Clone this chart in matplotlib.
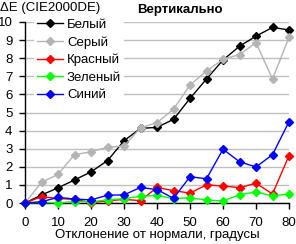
import matplotlib
matplotlib.use("Agg")
import matplotlib.pyplot as plt

plt.rcParams['font.family'] = ['Liberation Sans', 'DejaVu Sans']

angles = [0, 5, 10, 15, 20, 25, 30, 35, 40, 45, 50, 55, 60, 65, 70, 75, 80]
white = [0, 0.44, 0.84, 1.27, 1.72, 2.34, 3.44, 4.12, 4.18, 4.62, 5.78, 6.85, 7.9, 8.66, 9.22, 9.7, 9.56]
gray = [0, 1.14, 1.58, 2.67, 2.83, 3.08, 3.15, 4.15, 4.44, 5.18, 6.52, 7.29, 7.94, 8.2, 8.86, 6.85, 9.15]
red = [0, 0.35, 0.25, 0.2, 0.02, 0.12, 0.2, 0.13, 0.86, 0.68, 0.55, 1.0, 0.94, 0.85, 1.09, 0.5, 2.62]
green = [0, 0.04, 0.0, 0.08, 0.07, 0.17, 0.24, 0.37, 0.42, 0.24, 0.28, 0.17, 0.11, 0.46, 0.61, 0.39, 0.5]
blue = [0, 0.07, 0.31, 0.22, 0.17, 0.43, 0.45, 0.86, 0.74, 0.26, 1.45, 1.34, 2.97, 2.28, 1.99, 2.67, 4.49]

series = [
    ('Белый', white, '#000000'),
    ('Серый', gray, '#b4b4b4'),
    ('Красный', red, '#ff0000'),
    ('Зеленый', green, '#00ff00'),
    ('Синий', blue, '#0000ff'),
]

fig = plt.figure(figsize=(2.96, 2.44), dpi=100)
ax = fig.add_axes([25 / 296, 41 / 244, 264 / 296, 181 / 244])

for i, (name, vals, col) in enumerate(series):
    ax.plot(angles, vals, color=col, lw=1, marker='D', markersize=4,
            label=name, clip_on=False, zorder=3 + i)

ax.set_xlim(0, 80)
ax.set_ylim(0, 10)
ax.set_xticks(range(0, 81, 10))
ax.set_yticks(range(0, 11))
ax.yaxis.grid(True, color='#c0c0c0', lw=1)
ax.set_axisbelow(True)
for s in ['top', 'right']:
    ax.spines[s].set_visible(False)
ax.spines['left'].set_linewidth(1)
ax.spines['bottom'].set_linewidth(1)
ax.tick_params(axis='both', labelsize=9.5, length=4, width=1, direction='out')
ax.tick_params(axis='y', pad=5)
ax.tick_params(axis='x', pad=6)
ax.set_xlabel('Отклонение от нормали, градусы', fontsize=9.5, labelpad=0)

fig.text(0, 1 - 8 / 244, 'ΔE (CIE2000DE)', fontsize=9.5, ha='left', va='center')
fig.text(180 / 296, 1 - 10 / 244, 'Вертикально', fontsize=9.5, fontweight='bold',
         ha='center', va='center')

leg = ax.legend(loc='upper left', bbox_to_anchor=(34 / 296, 1 - 16 / 244),
                bbox_transform=fig.transFigure, frameon=True, framealpha=1,
                edgecolor='white', facecolor='white', fontsize=9.5,
                handlelength=2, handletextpad=0.3, labelspacing=0.4,
                borderpad=0.2, borderaxespad=0)
leg.get_frame().set_linewidth(0)
leg.set_zorder(20)

fig.savefig('out.png', dpi=100)
